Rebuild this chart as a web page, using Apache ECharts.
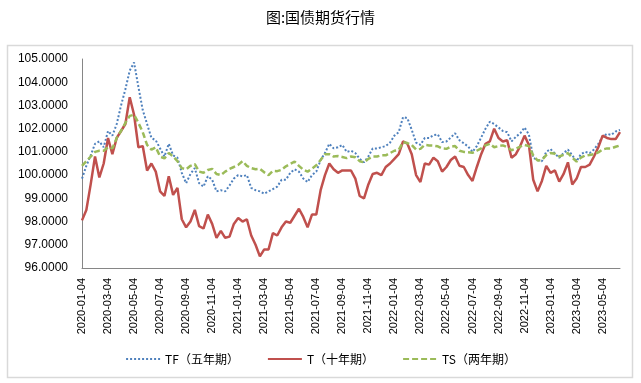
<!DOCTYPE html>
<html>
<head>
<meta charset="utf-8">
<script src="https://cdn.jsdelivr.net/npm/echarts@6/dist/echarts.min.js"></script>
<style>html,body{margin:0;padding:0;background:#fff;}#c{width:641px;height:383px;}</style>
</head>
<body>
<div id="c"></div>
<script>
// categories: three sample dates per month (04, 14, 24), 2020-01-04 .. 2023-06-14
const categories = [];
for (let y = 2020; y <= 2023; y++) {
  for (let m = 1; m <= 12; m++) {
    for (const d of ['04', '14', '24']) {
      const s = y + '-' + String(m).padStart(2, '0') + '-' + d;
      if (s <= '2023-06-14') categories.push(s);
    }
  }
}
const tickLabels = ['2020-01-04','2020-03-04','2020-05-04','2020-07-04','2020-09-04','2020-11-04',
  '2021-01-04','2021-03-04','2021-05-04','2021-07-04','2021-09-04','2021-11-04',
  '2022-01-04','2022-03-04','2022-05-04','2022-07-04','2022-09-04','2022-11-04',
  '2023-01-04','2023-03-04','2023-05-04'];

const TF = [99.85,100.4,100.85,101.35,101.45,101.2,101.9,101.7,102.2,103.0,
  103.7,104.5,104.85,103.8,102.8,102.2,101.6,101.5,101.15,100.8,
  101.35,100.85,100.75,100.1,99.65,100.05,100.3,99.65,99.5,99.95,
  99.8,99.3,99.35,99.3,99.55,99.85,100.0,99.95,100.0,99.45,
  99.35,99.3,99.2,99.3,99.4,99.5,99.8,99.8,100.1,100.25,
  100.15,99.85,99.7,100.0,100.15,100.65,100.95,101.35,101.15,101.2,
  101.3,101.0,101.05,100.95,100.7,100.55,100.8,101.15,101.15,101.2,
  101.25,101.4,101.7,101.85,102.5,102.45,101.95,101.4,101.3,101.6,
  101.6,101.72,101.75,101.42,101.45,101.62,101.8,101.5,101.37,101.23,
  101.0,101.25,101.62,102.0,102.3,102.2,102.05,101.9,101.85,101.45,
  101.65,101.8,102.05,101.75,100.75,100.65,100.6,101.0,101.12,100.92,
  100.75,100.95,101.1,100.85,100.6,100.9,101.0,100.95,101.1,101.35,
  101.65,101.78,101.73,101.88,101.95];
const T = [98.05,98.5,99.6,100.8,99.9,100.5,101.6,100.9,101.6,101.9,
  102.2,103.35,102.6,101.2,101.25,100.2,100.5,100.15,99.3,99.1,
  99.95,99.15,99.45,98.1,97.75,98.0,98.5,97.8,97.7,98.3,
  97.9,97.3,97.6,97.3,97.35,97.9,98.15,98.0,98.1,97.4,
  97.0,96.5,96.8,96.8,97.5,97.4,97.75,98.0,97.95,98.25,
  98.55,98.2,97.75,98.3,98.3,99.35,100.0,100.5,100.25,100.1,
  100.2,100.2,100.2,99.85,99.1,99.0,99.6,100.05,100.1,100.0,
  100.35,100.5,100.7,100.9,101.45,101.35,100.9,100.0,99.7,100.5,
  100.45,100.75,100.6,100.15,100.35,100.65,100.8,100.4,100.35,100.0,
  99.75,100.35,100.9,101.35,101.45,102.0,101.6,101.45,101.5,100.75,
  100.9,101.25,101.7,101.3,99.8,99.3,99.75,100.4,100.1,100.2,
  99.72,100.05,100.55,99.6,99.85,100.35,100.35,100.45,100.8,101.2,
  101.7,101.6,101.55,101.55,101.85];
const TS = [100.4,100.6,100.8,101.0,101.05,101.05,101.2,101.15,101.6,101.9,
  102.25,102.55,102.6,102.25,101.85,101.3,101.1,101.2,100.8,100.72,
  100.95,100.8,100.6,100.3,100.25,100.4,100.47,100.15,100.1,100.22,
  100.27,100.05,100.0,100.15,100.27,100.35,100.44,100.6,100.4,100.3,
  100.25,100.27,100.12,100.0,100.18,100.17,100.23,100.38,100.48,100.58,
  100.4,100.23,100.15,100.28,100.42,100.65,100.9,100.9,100.8,100.82,
  100.78,100.73,100.8,100.77,100.6,100.55,100.7,100.8,100.8,100.85,
  100.85,100.95,101.05,101.08,101.42,101.38,101.3,101.1,101.13,101.3,
  101.28,101.27,101.24,101.15,101.13,101.22,101.25,101.05,101.0,100.98,
  100.96,101.05,101.15,101.28,101.35,101.2,101.25,101.28,101.2,101.07,
  101.14,101.23,101.3,101.25,100.85,100.63,100.65,100.86,100.95,100.92,
  100.8,100.87,100.95,100.75,100.58,100.75,100.85,100.87,100.9,100.98,
  101.1,101.15,101.15,101.22,101.28];
const seriesNames = ['TF（五年期）', 'T（十年期）', 'TS（两年期）'];

const chart = echarts.init(document.getElementById('c'), null, {renderer: 'canvas'});
const font = '"Liberation Sans", Arial, "Noto Sans CJK SC", sans-serif';
chart.setOption({
  animation: false,
  backgroundColor: '#fff',
  title: {
    text: '图:国债期货行情', left: 'center', top: 5,
    textStyle: {fontFamily: '"Noto Sans CJK SC", sans-serif', fontSize: 15, fontWeight: 'normal', color: '#000'}
  },
  graphic: [{
    type: 'rect', shape: {x: 7.5, y: 45.5, width: 625, height: 332},
    style: {fill: 'none', stroke: '#d9d9d9', lineWidth: 1.5}, silent: true, z: -1
  }],
  legend: {
    data: seriesNames, left: 'center', top: 348, itemGap: 28, itemWidth: 34, itemHeight: 12,
    itemStyle: {opacity: 0},
    textStyle: {fontFamily: '"Noto Sans CJK SC", sans-serif', fontSize: 12, color: '#000'}
  },
  grid: {left: 82, right: 21, top: 59, bottom: 115, containLabel: false},
  xAxis: {
    type: 'category', data: categories, boundaryGap: false,
    axisLine: {lineStyle: {color: '#868686', width: 1}},
    axisTick: {show: false},
    axisLabel: {
      rotate: 90, fontSize: 11, color: '#000', fontFamily: font, margin: 10,
      interval: (idx, val) => tickLabels.includes(val)
    },
    splitLine: {show: false}
  },
  yAxis: {
    type: 'value', min: 96, max: 105, interval: 1,
    axisLine: {show: true, lineStyle: {color: '#868686', width: 1}},
    axisTick: {show: false},
    axisLabel: {fontSize: 12, color: '#000', fontFamily: font, margin: 14, formatter: v => v.toFixed(4)},
    splitLine: {show: false}
  },
  series: [
    {name: seriesNames[0], type: 'line', data: TF, showSymbol: false, symbol: 'none',
      itemStyle: {color: '#4f81bd'}, lineStyle: {color: '#4f81bd', width: 2, type: [2, 2]}},
    {name: seriesNames[1], type: 'line', data: T, showSymbol: false, symbol: 'none',
      itemStyle: {color: '#c0504d'}, lineStyle: {color: '#c0504d', width: 2.5, type: 'solid'}},
    {name: seriesNames[2], type: 'line', data: TS, showSymbol: false, symbol: 'none',
      itemStyle: {color: '#9bbb59'}, lineStyle: {color: '#9bbb59', width: 2.5, type: [6, 3]}}
  ]
});
</script>
</body>
</html>
